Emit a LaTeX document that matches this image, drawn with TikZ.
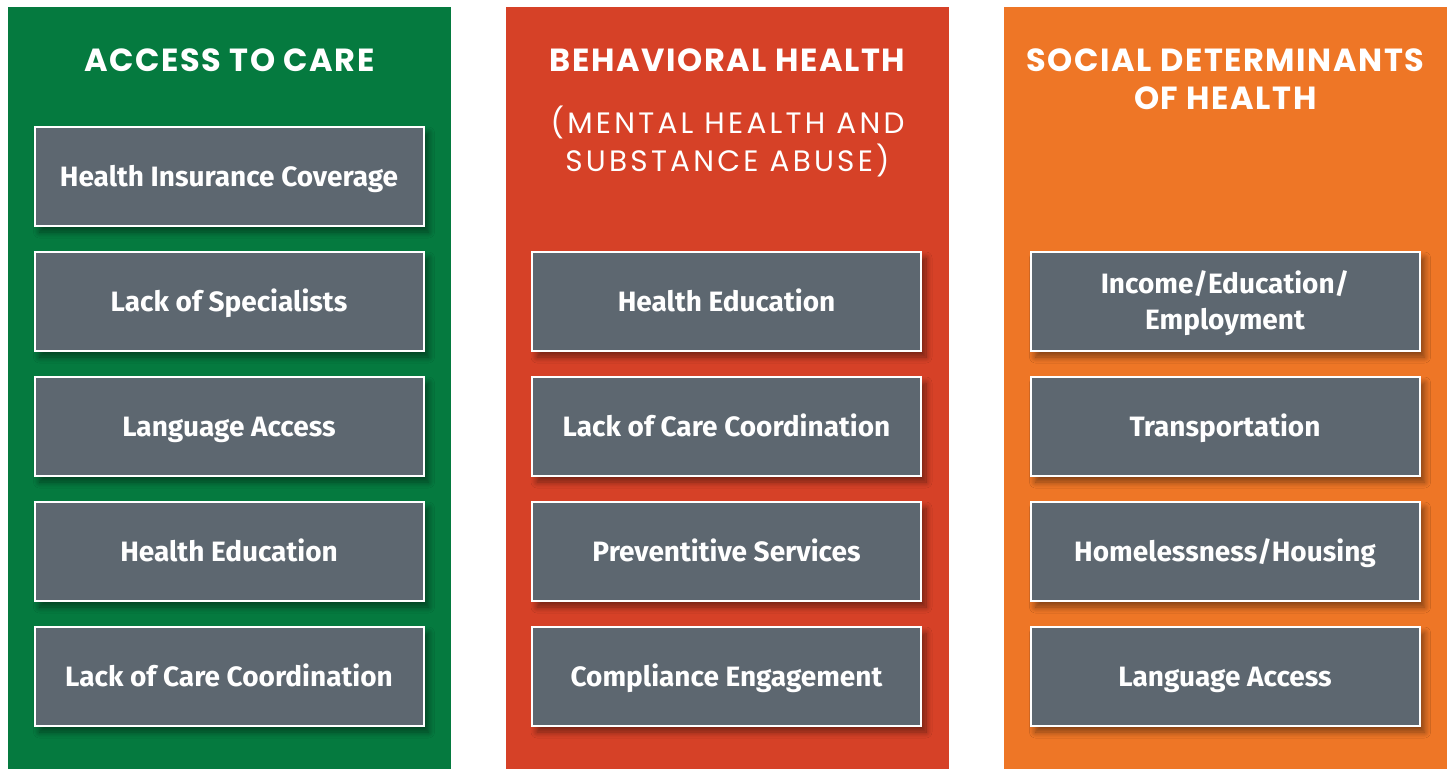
\documentclass[tikz,border=0pt]{standalone}
\usepackage{fontspec}
\setmainfont{Fira Sans}
\newfontfamily\titlefont[LetterSpace=5]{Poppins}
\newfontfamily\subfont[LetterSpace=11]{Poppins}
\usetikzlibrary{shadows.blur}
\definecolor{cgreen}{HTML}{057A3F}
\definecolor{cred}{HTML}{D64127}
\definecolor{corange}{HTML}{EE7626}
\definecolor{cbox}{HTML}{5D6770}
\tikzset{
  col/.style={draw=none, inner sep=0pt, minimum width=443pt, minimum height=762pt, anchor=north},
  item/.style={fill=cbox, draw=white, line width=2pt, minimum width=389pt, minimum height=99pt, inner sep=0pt,
     text=white, align=center, font=\fontsize{28}{36}\selectfont\bfseries, text height=19.5pt, text depth=0pt,
     blur shadow={shadow xshift=5pt, shadow yshift=-6pt, shadow blur steps=10, shadow blur radius=6pt, shadow opacity=45}},
  ttl/.style={text=white, align=center, font=\titlefont\fontsize{32}{38}\selectfont\bfseries, inner sep=0pt},
  sub/.style={text=white, align=center, font=\subfont\fontsize{29.5}{38}\selectfont, inner sep=0pt}
}
\begin{document}
\begin{tikzpicture}[x=1pt,y=-1pt]
\useasboundingbox (0,0) rectangle (1450,768);
\fill[white] (0,0) rectangle (1450,768);
\node[col, fill=cgreen] (c1) at (229.5,7) {};
\node[col, fill=cred] (c2) at (727.5,7) {};
\node[col, fill=corange] (c3) at (1225.5,7) {};
\node[ttl] (t1) at (229.5,60) {ACCESS TO CARE};
\node[ttl] (t2) at (727.5,60) {BEHAVIORAL HEALTH};
\node[sub] (s2) at (727.5,141) {(MENTAL HEALTH AND\\SUBSTANCE ABUSE)};
\node[ttl] (t3) at (1225.5,79) {SOCIAL DETERMINANTS\\OF HEALTH};
\foreach \y/\t [count=\i] in {176.5/Health Insurance Coverage,301.5/Lack of Specialists,426.5/Language Access,551.5/Health Education,676.5/Lack of Care Coordination}
  \node[item] (a\i) at (229,\y) {\t};
\foreach \y/\t [count=\i] in {301.5/Health Education,426.5/Lack of Care Coordination,551.5/Preventitive Services,676.5/Compliance Engagement}
  \node[item] (b\i) at (726.5,\y) {\t};
\node[item, text height=55.5pt] (d1) at (1225,301.5) {Income/Education/\\Employment};
\node[item] (d2) at (1225,426.5) {Transportation};
\node[item] (d3) at (1225,551.5) {Homelessness/Housing};
\node[item] (d4) at (1225,676.5) {Language Access};
\end{tikzpicture}
\end{document}
